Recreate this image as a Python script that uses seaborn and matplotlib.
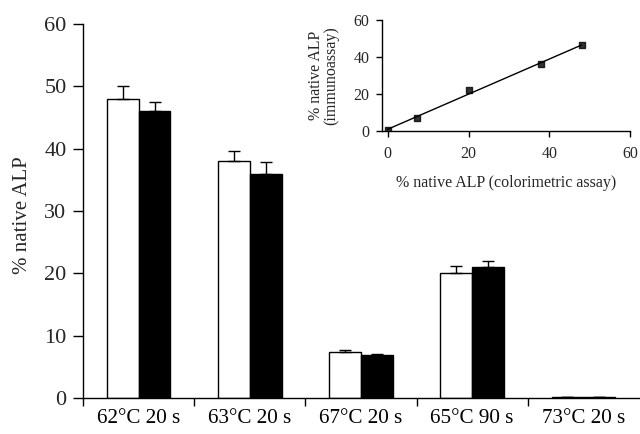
import matplotlib
matplotlib.use("Agg")
import matplotlib.pyplot as plt
import seaborn as sns
import pandas as pd
import numpy as np

categories = ["62°C 20 s", "63°C 20 s", "67°C 20 s", "65°C 90 s", "73°C 20 s"]
series = ["colorimetric", "immunoassay"]
colorimetric = [48.0, 38.0, 7.3, 20.0, 0.2]
colorimetric_err = [2.0, 1.6, 0.45, 1.1, 0.0]
immunoassay = [46.0, 36.0, 6.9, 21.0, 0.2]
immunoassay_err = [1.5, 1.8, 0.15, 0.9, 0.0]

inset_x = [0.0, 7.3, 20.0, 38.0, 48.0]
inset_y = [0.5, 7.3, 22.0, 36.0, 46.5]

sns.set_theme(style="ticks")
plt.rcParams["font.family"] = ["Liberation Serif", "DejaVu Serif"]

df = pd.DataFrame({
    "cat": categories * 2,
    "series": [series[0]] * 5 + [series[1]] * 5,
    "val": colorimetric + immunoassay,
})

fig = plt.figure(figsize=(6.4, 4.34), dpi=100)
ax = fig.add_axes([0.130, 0.083, 0.868, 0.862])
sns.barplot(data=df, x="cat", y="val", hue="series", order=categories,
            hue_order=series, palette=["white", "black"], edgecolor="black",
            linewidth=1.0, width=0.57, errorbar=None, legend=False, ax=ax,
            saturation=1)

errs = {series[0]: colorimetric_err, series[1]: immunoassay_err}
vals = {series[0]: colorimetric, series[1]: immunoassay}
for cont, s in zip(ax.containers, series):
    xs = [p.get_x() + p.get_width() / 2 for p in cont.patches]
    e = errs[s]
    ax.errorbar(xs, vals[s], yerr=[np.zeros(len(e)), e], fmt="none",
                ecolor="black", elinewidth=1.0, capsize=4, capthick=1.0, zorder=1)

ax.set_xlim(-0.5, 4.5)
ax.set_ylim(0, 60)
ax.set_yticks([0, 10, 20, 30, 40, 50, 60])
ax.set_xticks(range(5))
ax.set_xticklabels(categories)
ax.set_xticks([-0.5, 0.5, 1.5, 2.5, 3.5], minor=True)
ax.tick_params(axis="x", which="major", length=0, pad=8, labelsize=15.2, colors="black")
ax.tick_params(axis="x", which="minor", length=6, width=1, direction="out", color="black")
ax.tick_params(axis="y", length=7, width=1, direction="out", labelsize=16, pad=5, color="black")
ax.set_xlabel("")
ax.set_ylabel("% native ALP", fontsize=15)
ax.yaxis.set_label_coords(-0.092, 0.49)
for sp in ["top", "right"]:
    ax.spines[sp].set_visible(False)
for sp in ["left", "bottom"]:
    ax.spines[sp].set_color("black")
    ax.spines[sp].set_linewidth(1.0)

# inset
ins = fig.add_axes([0.597, 0.698, 0.3875, 0.256])
sns.regplot(x=inset_x, y=inset_y, ci=None, ax=ins, marker="s",
            scatter_kws={"s": 14, "color": "black", "zorder": 3},
            line_kws={"color": "black", "linewidth": 1.0})
ins.set_xlim(-1.4, 60)
ins.set_ylim(0, 60)
ins.set_xticks([0, 20, 40, 60])
ins.set_yticks([0, 20, 40, 60])
ins.tick_params(length=4, width=1, direction="out", labelsize=11.5, color="black", pad=5)
ins.tick_params(axis="x", pad=7)
ins.set_xlabel("% native ALP (colorimetric assay)", fontsize=11.5, labelpad=9)
ins.set_ylabel("% native ALP\n(immunoassay)", fontsize=11.5, labelpad=10, linespacing=0.95)
ins.patch.set_alpha(0)
for sp in ["top", "right"]:
    ins.spines[sp].set_visible(False)
for sp in ["left", "bottom"]:
    ins.spines[sp].set_color("black")
    ins.spines[sp].set_linewidth(1.0)

fig.savefig("out.png", dpi=100)
